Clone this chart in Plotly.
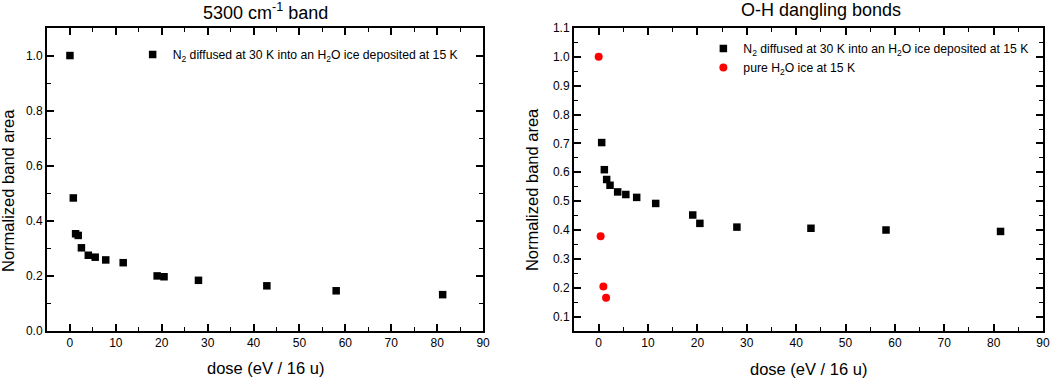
import plotly.graph_objects as go

# 5300 cm-1 band, N2 diffused at 30 K into H2O ice deposited at 15 K
band_dose = [0.0, 0.73, 1.23, 1.8, 2.5, 4.0, 5.5, 7.8, 11.6, 19.0, 20.5, 28.0, 42.9, 58.0, 81.2]
band_area = [1.0, 0.483, 0.353, 0.347, 0.302, 0.275, 0.268, 0.258, 0.248, 0.200, 0.197, 0.184, 0.164, 0.146, 0.132]

# O-H dangling bonds, same N2 ice (the dose-0 point sits under the red one)
oh_dose = [0.61, 1.15, 1.62, 2.3, 3.85, 5.5, 7.7, 11.55, 19.05, 20.5, 28.0, 43.0, 58.2, 81.4]
oh_area = [0.703, 0.609, 0.575, 0.555, 0.532, 0.523, 0.513, 0.492, 0.452, 0.423, 0.410, 0.406, 0.400, 0.395]

# O-H dangling bonds, pure H2O ice at 15 K
pure_dose = [0.0, 0.4, 0.95, 1.5]
pure_area = [1.0, 0.378, 0.204, 0.165]

N2_LABEL = "N<sub>2</sub> diffused at 30 K into an H<sub>2</sub>O ice deposited at 15 K"
PURE_LABEL = "pure H<sub>2</sub>O ice at 15 K"

FONT = "Liberation Sans, Arial, sans-serif"

fig = go.Figure()

fig.add_trace(go.Scatter(
    x=band_dose, y=band_area, mode="markers", name=N2_LABEL,
    marker=dict(symbol="square", size=7.5, color="black"),
    xaxis="x", yaxis="y", legend="legend",
))
fig.add_trace(go.Scatter(
    x=oh_dose, y=oh_area, mode="markers", name=N2_LABEL,
    marker=dict(symbol="square", size=7.5, color="black"),
    xaxis="x2", yaxis="y2", legend="legend2",
))
fig.add_trace(go.Scatter(
    x=pure_dose, y=pure_area, mode="markers", name=PURE_LABEL,
    marker=dict(symbol="circle", size=8, color="red"),
    xaxis="x2", yaxis="y2", legend="legend2",
))

common = dict(
    showline=True, linewidth=2, linecolor="black", mirror="allticks",
    ticks="inside", ticklen=7, tickwidth=2, tickcolor="black",
    showgrid=False, zeroline=False, automargin=False,
    tickfont=dict(family=FONT, size=12, color="black"),
)

xcommon = dict(common, range=[-5, 90], dtick=10, tick0=0,
               minor=dict(ticks="inside", dtick=5, ticklen=4, tickwidth=1, tickcolor="black"))

fig.update_layout(
    width=1050, height=378,
    margin=dict(l=47, r=7, t=28, b=47),
    paper_bgcolor="white", plot_bgcolor="white",
    font=dict(family=FONT, color="black"),
    xaxis=dict(xcommon, domain=[0, 0.4378], anchor="y"),
    yaxis=dict(common, range=[0, 1.1], dtick=0.2, tick0=0, tickformat=".1f",
               domain=[0, 1], anchor="x",
               minor=dict(ticks="inside", dtick=0.1, ticklen=4, tickwidth=1, tickcolor="black")),
    xaxis2=dict(xcommon, domain=[0.5291, 1], anchor="y2"),
    yaxis2=dict(common, range=[0.05, 1.1], dtick=0.1, tick0=0.1, tickformat=".1f",
                domain=[0, 1], anchor="x2",
                minor=dict(ticks="inside", dtick=0.05, ticklen=4, tickwidth=1, tickcolor="black")),
    legend=dict(x=0.086, y=0.96, xanchor="left", yanchor="top",
                bgcolor="rgba(0,0,0,0)", font=dict(family=FONT, size=12.2)),
    legend2=dict(x=0.659, y=0.98, xanchor="left", yanchor="top", tracegroupgap=0,
                 bgcolor="rgba(0,0,0,0)", font=dict(family=FONT, size=12.2)),
    showlegend=True,
)

annotations = [
    # panel titles
    dict(text="5300 cm<sup>-1</sup> band", x=0.2189, y=1.056, size=18),
    dict(text="O-H dangling bonds", x=0.7771, y=1.058, size=18),
    # x-axis titles
    dict(text="dose (eV / 16 u)", x=0.2189, y=-0.122, size=16.5),
    dict(text="dose (eV / 16 u)", x=0.765, y=-0.125, size=16.5),
]
for a in annotations:
    fig.add_annotation(text=a["text"], x=a["x"], y=a["y"], xref="paper", yref="paper",
                       xanchor="center", yanchor="middle", showarrow=False,
                       font=dict(family=FONT, size=a["size"], color="black"))

# y-axis titles
for xpos in [-0.0392, 0.487]:
    fig.add_annotation(text="Normalized band area", x=xpos, y=0.4653,
                       xref="paper", yref="paper", xanchor="center", yanchor="middle",
                       textangle=-90, showarrow=False,
                       font=dict(family=FONT, size=16.5, color="black"))

# drop the default page margin so the figure sits at the window corner
fig.write_html("out.html", config={"displayModeBar": False},
               post_script="document.body.style.margin='0';")
